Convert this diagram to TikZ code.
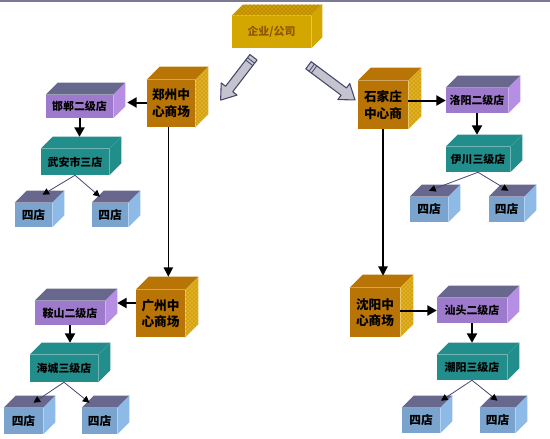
\documentclass[tikz,border=0pt]{standalone}
\usepackage{fontspec}
\newfontfamily\cjk{Noto Sans CJK SC}
\usepackage{xcolor}
\usepackage{tikz}
\usetikzlibrary{calc,arrows.meta,patterns}

\definecolor{goldfront}{RGB}{212,166,0}
\definecolor{goldtop}{RGB}{204,156,0}
\definecolor{golddot}{RGB}{150,100,0}
\definecolor{goldtext}{RGB}{140,88,0}
\definecolor{mallfront}{RGB}{184,116,4}
\definecolor{mallside}{RGB}{224,176,32}
\definecolor{malldot}{RGB}{168,116,0}
\definecolor{lilac}{RGB}{158,122,204}
\definecolor{lilacside}{RGB}{182,142,228}
\definecolor{slatetop}{RGB}{104,104,142}
\definecolor{teal3}{RGB}{34,142,140}
\definecolor{shopfront}{RGB}{122,164,206}
\definecolor{shopside}{RGB}{142,186,232}
\definecolor{arrowgray}{RGB}{196,196,206}
\definecolor{arrowline}{RGB}{70,70,110}
\definecolor{topbar}{RGB}{122,122,150}

% faces of a box drawn round its front node
\newcommand{\cubetop}[3]{\path[#3] (#1.north west) -- ++(#2,-#2) -- ($(#1.north east)+(#2,-#2)$) -- (#1.north east) -- cycle;}
\newcommand{\cubeside}[3]{\path[#3] (#1.north east) -- ++(#2,-#2) -- ($(#1.south east)+(#2,-#2)$) -- (#1.south east) -- cycle;}
% grey block arrow: tail coordinate, angle, length
\newcommand{\blockarrow}[3]{%
  \begin{scope}[shift={(#1)}, rotate=#2]
    \draw[bigarrow] (0,-4.5) -- (#3-14,-4.5) -- (#3-14,-10) -- (#3,0) -- (#3-14,10) -- (#3-14,4.5) -- (0,4.5) -- cycle;
    \draw[arrowline, line width=0.6pt] (4,-4.5) -- (4,4.5) (7,-4.5) -- (7,4.5);
  \end{scope}}

\tikzset{
  wh/.style 2 args={minimum width=0.75*#1pt, minimum height=0.75*#2pt},
  box/.style={inner sep=0pt, text=black, font=\cjk\bfseries\fontsize{8.2}{10}\selectfont},
  corpbox/.style={box, fill=goldfront, text=goldtext},
  mallbox/.style={box, fill=mallfront, align=left, font=\cjk\bfseries\fontsize{9.5}{12.5}\selectfont},
  lvtwo/.style={box, fill=lilac},
  lvthree/.style={box, fill=teal3},
  shopbox/.style={box, fill=shopfront, font=\cjk\bfseries\fontsize{8.8}{10}\selectfont},
  link/.style={line width=1.5pt, -{Triangle[length=7pt,width=7.5pt]}},
  longlink/.style={line width=0.9pt, -{Triangle[length=7pt,width=7pt]}},
  thinlink/.style={draw=arrowline, line width=0.6pt, -{Triangle[length=5pt,width=5pt,fill=black,color=black]}},
  bigarrow/.style={draw=arrowline, fill=arrowgray, line width=0.8pt, line join=round},
}

\begin{document}
\begin{tikzpicture}[x=0.75pt,y=0.75pt,yscale=-1,xscale=1]
\useasboundingbox (0,0) rectangle (550,439);
\fill[topbar] (0,0) rectangle (550,2);

% Top: company
\node[corpbox, wh={79}{32}] (corp) at (271.5,32) {企业/公司};
\cubetop{corp}{11}{fill=goldtop}
\cubetop{corp}{11}{pattern=crosshatch dots, pattern color=golddot}
\cubeside{corp}{11}{fill=goldfront}

% Malls
\node[mallbox, wh={48}{47}] (zz) at (171,103.5) {郑州中\\心商场};
\node[mallbox, wh={50}{48}] (sjz) at (383,105) {石家庄\\中心商};
\node[mallbox, wh={49}{47}] (gz) at (160.5,313.5) {广州中\\心商场};
\node[mallbox, wh={50}{49}] (sy) at (375,312.5) {沈阳中\\心商场};
\foreach \m in {zz,sjz,gz,sy}{
  \cubetop{\m}{13}{fill=mallfront}
  \cubeside{\m}{13}{fill=mallside}
  \cubeside{\m}{13}{pattern=crosshatch dots, pattern color=malldot}
}

% Second level
\node[lvtwo, wh={67}{23}] (hd) at (79.5,106.5) {邯郸二级店};
\node[lvtwo, wh={62}{25}] (ly) at (477,100.5) {洛阳二级店};
\node[lvtwo, wh={70}{24}] (as) at (70,313) {鞍山二级店};
\node[lvtwo, wh={70}{25}] (st) at (472,310.5) {汕头二级店};
\foreach \m in {hd,ly,as,st}{
  \cubetop{\m}{12}{fill=slatetop}
  \cubeside{\m}{12}{fill=lilacside}
}

% Third level
\node[lvthree, wh={68}{26}] (wa) at (75,162) {武安市三店};
\node[lvthree, wh={64}{25}] (yc) at (478,159.5) {伊川三级店};
\node[lvthree, wh={68}{27}] (hc) at (64,368.5) {海城三级店};
\node[lvthree, wh={70}{25}] (cy) at (472,367.5) {潮阳三级店};
\foreach \m in {wa,yc,hc,cy}{
  \cubetop{\m}{12}{fill=teal3}
  \cubeside{\m}{12}{fill=teal3}
}

% Fourth level shops
\node[shopbox, wh={37}{24}] (s1) at (33.5,215) {四店};
\node[shopbox, wh={36}{24}] (s2) at (110,215) {四店};
\node[shopbox, wh={38}{25}] (s3) at (429,209.5) {四店};
\node[shopbox, wh={35}{25}] (s4) at (506.5,209.5) {四店};
\node[shopbox, wh={39}{26}] (s5) at (23.5,421) {四店};
\node[shopbox, wh={35}{26}] (s6) at (99.5,421) {四店};
\node[shopbox, wh={38}{25}] (s7) at (421,420.5) {四店};
\node[shopbox, wh={35}{25}] (s8) at (497.5,420.5) {四店};
\foreach \m in {s1,s2,s3,s4,s5,s6,s7,s8}{
  \cubetop{\m}{12}{fill=slatetop}
  \cubeside{\m}{12}{fill=shopside}
}

% Block arrows from the company
\coordinate (ltail) at ($(corp.south)+(-18,9)$);
\coordinate (rtail) at ($(corp.south)+(37,17)$);
\blockarrow{ltail}{127.5}{54}
\blockarrow{rtail}{36.7}{58}

% Connectors
\coordinate (hdtip) at ($(hd.east)+(14,-4)$);
\draw[link] (zz.west |- hdtip) -- (hdtip);
\draw[link] (sjz.east |- ly.west) -- (ly.west);
\coordinate (astip) at ($(as.east)+(12,-10)$);
\draw[link] (gz.west |- astip) -- (astip);
\draw[link] (sy.east |- st.west) -- (st.west);

\coordinate (gztop) at ($(gz.north)+(13,-13)$);
\draw[longlink] ([xshift=-2]zz.south) -- ([xshift=-2]zz.south |- gztop);
\coordinate (sytop) at ($(sy.north)+(12,-12)$);
\draw[longlink] (sjz.south) -- (sjz.south |- sytop);

\draw[link] (hd.south) -- ($(hd.south |- wa.north)+(0,-12)$);
\draw[link] (ly.south) -- ($(ly.south |- yc.north)+(0,-12)$);
\draw[link] (as.south) -- ($(as.south |- hc.north)+(0,-12)$);
\draw[link] (st.south) -- ($(st.south |- cy.north)+(0,-12)$);

\draw[thinlink] (wa.south) -- ($(s1.north)+(9,-8)$);
\draw[thinlink] (wa.south) -- ($(s2.north)+(-10,-6)$);
\draw[thinlink] (yc.south) -- ($(s3.north)+(0,-6)$);
\draw[thinlink] (yc.south) -- ($(s4.north)+(2,-6)$);
\draw[thinlink] (hc.south) -- ($(s5.north)+(10,-5)$);
\draw[thinlink] (hc.south) -- ($(s6.north)+(-10,-5)$);
\draw[thinlink] (cy.south) -- ($(s7.north)+(20,-7)$);
\draw[thinlink] (cy.south) -- ($(s8.north)+(0,-7)$);
\end{tikzpicture}
\end{document}
